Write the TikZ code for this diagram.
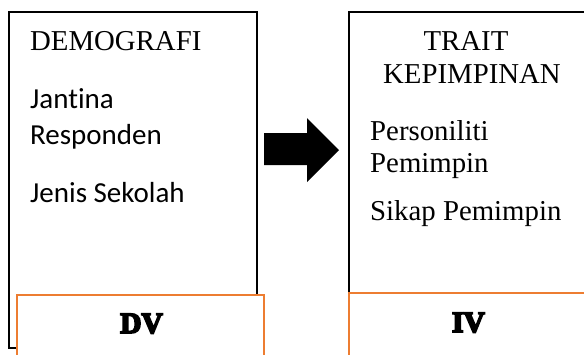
\documentclass[tikz,border=0pt]{standalone}
\usepackage{fontspec}
\setmainfont{Liberation Serif}
\newfontfamily\bodysans[RawFeature=-liga]{Carlito}
\newfontfamily\heavyserif[FakeBold=6]{Liberation Serif Bold}
\definecolor{accent}{HTML}{ED7D31}
\begin{document}
\begin{tikzpicture}[x=1pt,y=-1pt,
  frame/.style={draw=black,line width=2pt,fill=white,rectangle,inner sep=0pt},
  tag/.style={draw=accent,line width=2pt,fill=white,rectangle,inner sep=0pt},
  serif/.style={font=\fontsize{28.8}{34}\selectfont,inner sep=0pt},
  sans/.style={font=\bodysans\fontsize{29}{34}\selectfont,inner sep=0pt},
  heavy/.style={font=\heavyserif\fontsize{29.5}{34}\selectfont,inner sep=0pt}]
\useasboundingbox (0,0) rectangle (584,354);
\clip (0,0) rectangle (584,354);

% left panel and its label strip
\node[frame,minimum width=248pt,minimum height=336pt] (demo) at (133,180) {};
\node[tag,minimum width=247pt,minimum height=80pt] (dv) at (140.5,335) {};
% right panel runs past the right edge
\node[frame,minimum width=260pt,minimum height=281pt] (trait) at (479,152.5) {};
\node[tag,minimum width=260pt,minimum height=80pt] (iv) at (479,333) {};

% block arrow between the panels
\coordinate (a1) at (264,133);
\coordinate (a2) at (307,133);
\coordinate (a3) at (307,118);
\coordinate (tip) at (339,150);
\coordinate (a5) at (307,182);
\coordinate (a6) at (307,165);
\coordinate (a7) at (264,165);
\fill[black] (a1) -- (a2) -- (a3) -- (tip) -- (a5) -- (a6) -- (a7) -- cycle;

% left panel text
\node[serif,anchor=base west] (t1) at (30,50) {DEMOGRAFI};
\node[sans,anchor=base west] (t2) at (30,108) {Jantina};
\node[sans,anchor=base west] (t3) at (30,144) {Responden};
\node[sans,anchor=base west] (t4) at (30,202) {Jenis Sekolah};
\node[heavy,anchor=base] (t5) at (141.5,333) {DV};

% right panel text
\node[serif,anchor=base] (r1) at (466,50) {TRAIT};
\node[serif,anchor=base] (r2) at (472,83) {KEPIMPINAN};
\node[serif,anchor=base west] (r3) at (370,140) {Personiliti};
\node[serif,anchor=base west] (r4) at (370,172) {Pemimpin};
\node[serif,anchor=base west] (r5) at (370,220) {Sikap Pemimpin};
\node[heavy,anchor=base] (r6) at (468.5,332) {IV};
\end{tikzpicture}
\end{document}
